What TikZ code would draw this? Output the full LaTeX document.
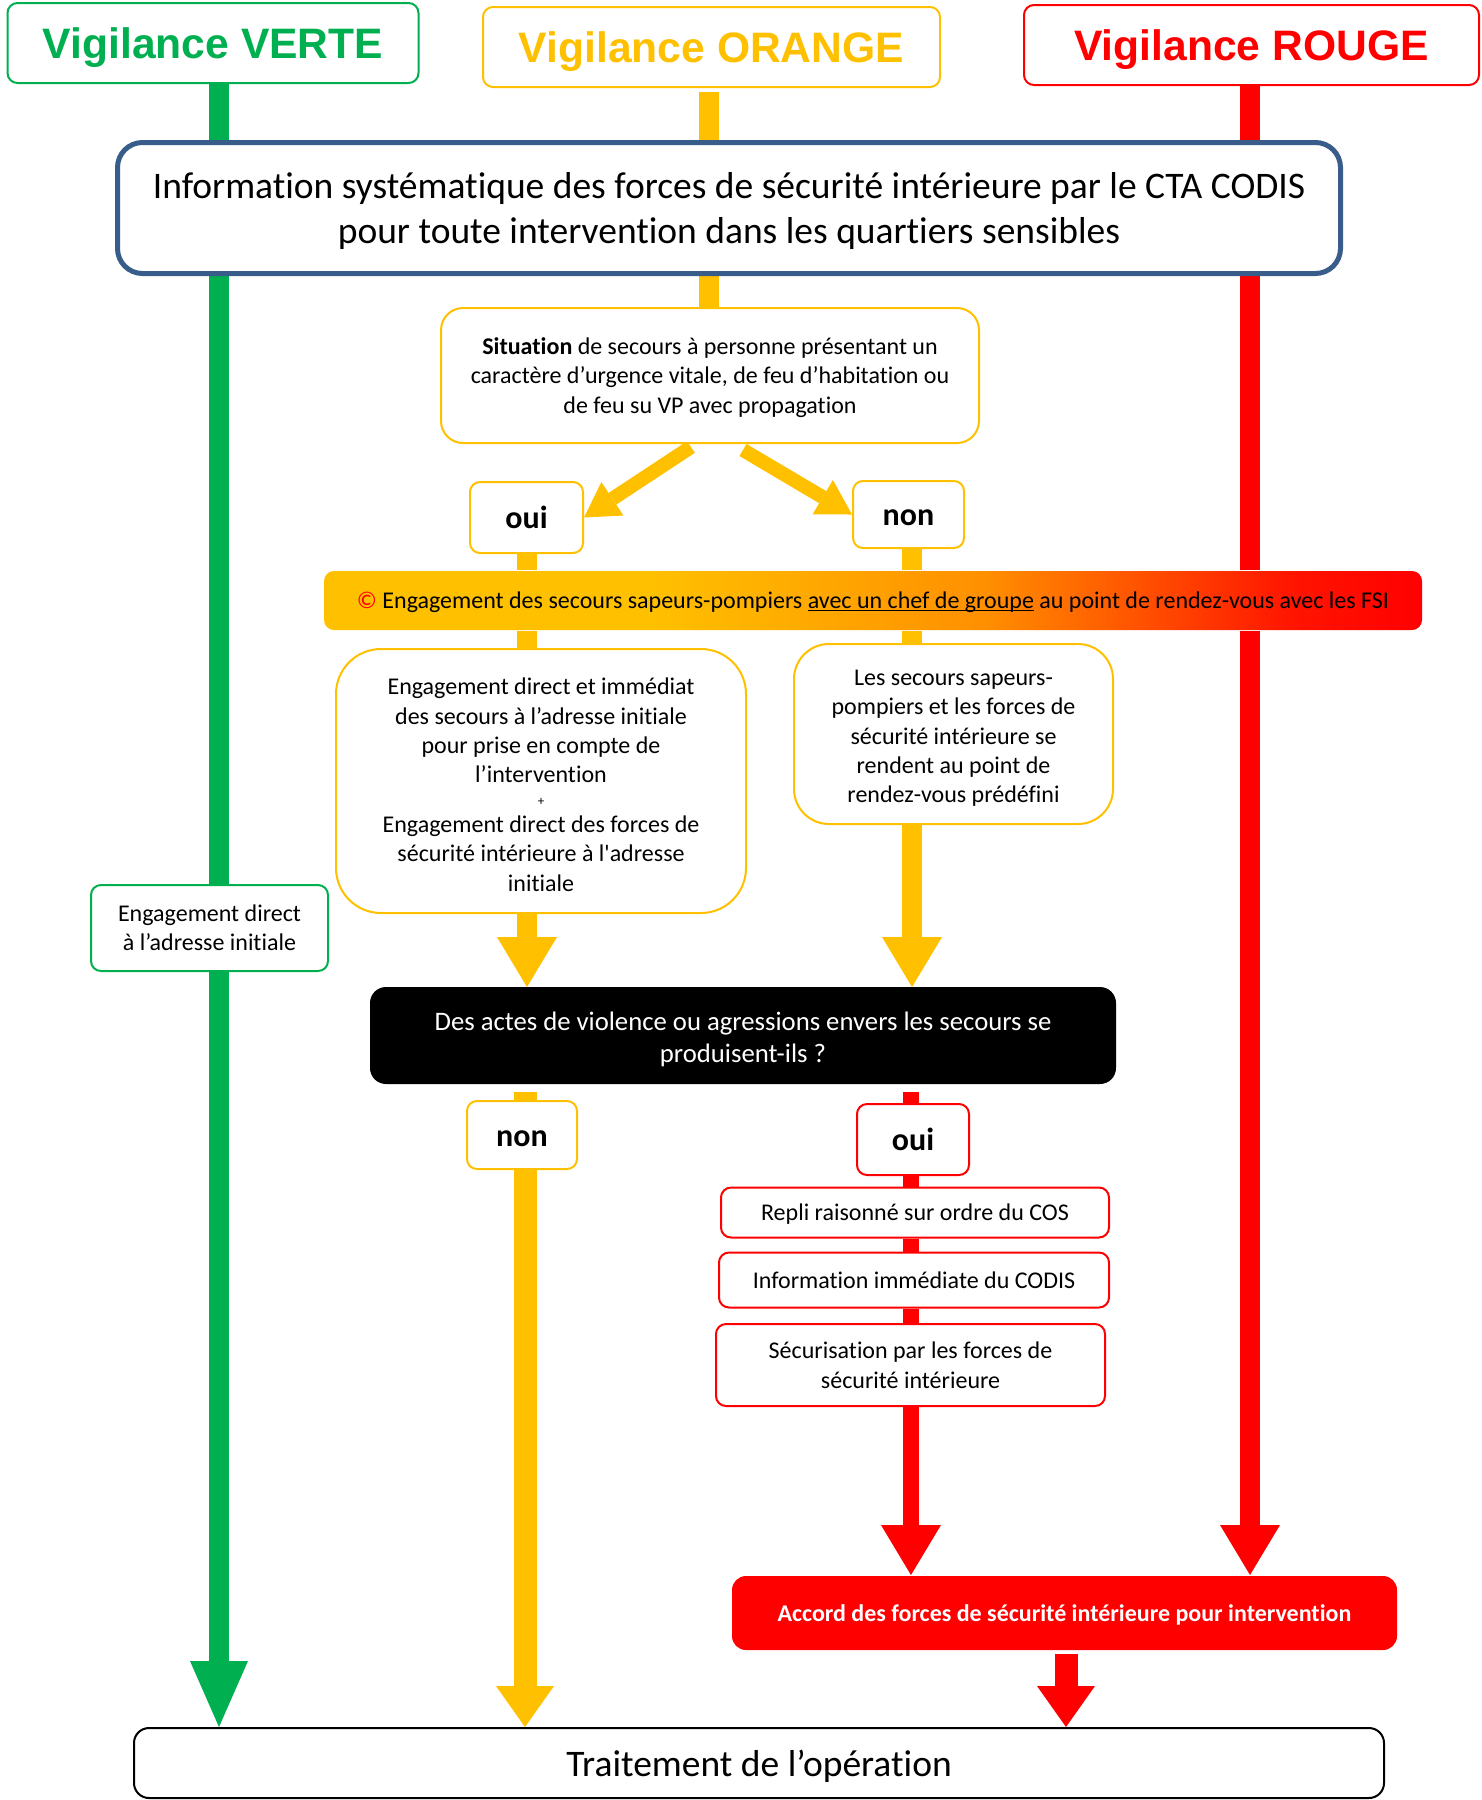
\documentclass[tikz,border=0pt]{standalone}
\usepackage{fontspec}
\setmainfont{Carlito}[Ligatures=NoCommon]
\newfontfamily\plainq{Carlito}[Ligatures=NoCommon]
\newfontfamily\arialf{Liberation Sans}
\usetikzlibrary{arrows.meta,backgrounds}
\definecolor{vgreen}{HTML}{00B050}
\definecolor{vorange}{HTML}{FFC000}
\definecolor{vred}{HTML}{FF0000}
\definecolor{vblue}{HTML}{385D8A}
\definecolor{barmid}{HTML}{FF9000}
\definecolor{barred}{HTML}{FF1500}
\pgfdeclarehorizontalshading{barshade}{100bp}{color(0bp)=(vorange); color(40bp)=(vorange); color(55bp)=(barmid); color(69bp)=(barred); color(75bp)=(vred); color(100bp)=(vred)}
\newcommand\fsz[2]{\fontsize{#1}{#2}\selectfont}
\newcommand\myul[1]{\setbox0\hbox{#1}\rlap{\rule[-2.6pt]{\wd0}{1.6pt}}\box0\relax}
\begin{document}
\begin{tikzpicture}[x=1pt,y=-1pt,
  box/.style={draw, fill=white, line width=2pt, rounded corners=10pt, inner sep=0pt, align=center, text depth=0pt, font=\fsz{24}{29.3}},
  obox/.style={box, draw=vorange},
  rbox/.style={box, draw=vred},
  gbox/.style={box, draw=vgreen},
  titlebox/.style={box, minimum height=80pt, font=\arialf\bfseries\fsz{42.6}{50}},
  yesno/.style={minimum width=#1, text height=22pt, font=\bfseries\fsz{32}{38}},
  gshaft/.style={draw=vgreen, line width=20pt},
  oshaft/.style={draw=vorange, line width=20pt},
  rshaft/.style={draw=vred, line width=20pt},
  tipbig/.style={-{Triangle[length=50pt,width=60pt,line width=0pt]}},
  tipsmall/.style={-{Triangle[length=41pt,width=58pt,line width=0pt]}},
  tipdiag/.style={-{Triangle[length=34pt,width=40pt,line width=0pt]}}
]
\useasboundingbox (0,0) rectangle (1482,1800);

% column coordinates
\coordinate (cG) at (219,0);
\coordinate (cO) at (709,0);
\coordinate (cR) at (1250,0);
\coordinate (cL) at (527,0);
\coordinate (cN) at (912,0);
\coordinate (cLo) at (525,0);
\coordinate (cRo) at (911,0);
\coordinate (cA) at (1066,0);
\coordinate (dL) at (691,447);
\coordinate (dR) at (743,450);

% titles
\node[titlebox, draw=vgreen, text=vgreen, minimum width=411pt] (verte) at (213,43) {Vigilance VERTE};
\node[titlebox, draw=vorange, text=vorange, minimum width=457pt] (orange) at (711.5,47) {Vigilance ORANGE};
\node[titlebox, draw=vred, text=vred, minimum width=455pt] (rouge) at (1251.5,45) {Vigilance ROUGE};

% main info box
\node[box, draw=vblue, line width=5pt, rounded corners=25pt, minimum width=1223pt, minimum height=131pt, font=\fsz{37.5}{45}] (info) at (729,208)
  {Information systématique des forces de sécurité intérieure par le CTA CODIS\\pour toute intervention dans les quartiers sensibles};

\node[obox, rounded corners=22pt, minimum width=538pt, minimum height=135pt] (situation) at (710,375.5)
  {{\bfseries Situation} de secours à personne présentant un\\caractère d’urgence vitale, de feu d’habitation ou\\de feu su VP avec propagation};

\node[obox, yesno=113pt, minimum height=71pt] (oui1) at (526.5,517.5) {oui};
\node[obox, yesno=111pt, minimum height=67pt] (non1) at (908.5,514.5) {non};

\node[box, draw=none, shading=barshade, minimum width=1098pt, minimum height=59pt] (bar) at (873,600.5)
  {\textcolor{vred}{©} Engagement des secours sapeurs-pompiers \myul{avec un chef de groupe} au point de rendez-vous avec les FSI};

\node[obox, rounded corners=45pt, minimum width=410pt, minimum height=264pt] (leftbox) at (541,781)
  {\rule{0pt}{24pt}Engagement direct et immédiat\\des secours à l’adresse initiale\\pour prise en compte de\\l’intervention\\[-7pt]{\fsz{13}{14}+}\\[-2pt]Engagement direct des forces de\\sécurité intérieure à l{\plainq '}adresse\\initiale};

\node[obox, rounded corners=35pt, minimum width=319pt, minimum height=180pt] (rightbox) at (953.5,734)
  {\rule{0pt}{20pt}Les secours sapeurs-\\pompiers et les forces de\\sécurité intérieure se\\rendent au point de\\rendez-vous prédéfini};

\node[gbox, minimum width=237pt, minimum height=86pt] (greenbox) at (209.5,928)
  {Engagement direct\\à l’adresse initiale};

\node[box, draw=black, fill=black, text=white, rounded corners=15pt, minimum width=744pt, minimum height=95pt, font=\fsz{26.7}{32.5}] (black) at (743,1035.5)
  {\rule{0pt}{22pt}Des actes de violence ou agressions envers les secours se\\produisent-ils ?};

\node[obox, yesno=110pt, minimum height=68pt] (non2) at (522,1135) {non};
\node[rbox, yesno=112pt, minimum height=71pt] (oui2) at (913,1139.5) {oui};

\node[rbox, minimum width=388pt, minimum height=50pt] (repli) at (915,1212.5) {Repli raisonné sur ordre du COS};
\node[rbox, minimum width=390pt, minimum height=55pt] (infoc) at (914,1280) {Information immédiate du CODIS};
\node[rbox, minimum width=389pt, minimum height=82pt] (secu) at (910.5,1365) {Sécurisation par les forces de\\sécurité intérieure};

\node[box, draw=none, fill=vred, text=white, rounded corners=14pt, minimum width=665pt, minimum height=74pt, font=\bfseries\fsz{24}{28}] (accord) at (1064.5,1613)
  {Accord des forces de sécurité intérieure pour intervention};

\node[box, draw=black, rounded corners=15pt, minimum width=1250pt, minimum height=70pt, font=\fsz{37.5}{45}] (trait) at (759,1763)
  {Traitement de l’opération};

\begin{scope}[on background layer]
% green column
\draw[gshaft] (verte.south -| cG) -- (info.north -| cG);
\draw[gshaft] (info.south -| cG) -- (greenbox.north -| cG);
\draw[gshaft, -{Triangle[length=66pt,width=58pt,line width=0pt]}] (greenbox.south -| cG) -- (trait.north -| cG);
% orange column
\draw[oshaft, shorten <=4pt] (orange.south -| cO) -- (info.north -| cO);
\draw[oshaft] (info.south -| cO) -- (situation.north -| cO);
\draw[oshaft, line width=14pt, tipdiag] (dL) -- (oui1.east);
\draw[oshaft, line width=14pt, tipdiag] (dR) -- (non1.west);
\draw[oshaft] (oui1.south -| cL) -- (bar.north -| cL);
\draw[oshaft] (bar.south -| cL) -- (leftbox.north -| cL);
\draw[oshaft, tipbig] (leftbox.south -| cL) -- (black.north -| cL);
\draw[oshaft] (non1.south -| cN) -- (bar.north -| cN);
\draw[oshaft] (bar.south -| cN) -- (rightbox.north -| cN);
\draw[oshaft, tipbig] (rightbox.south -| cN) -- (black.north -| cN);
\draw[oshaft, line width=23pt, shorten <=8pt] (black.south -| cLo) -- (non2.north -| cLo);
\draw[oshaft, line width=23pt, tipsmall] (non2.south -| cLo) -- (trait.north -| cLo);
% red column
\draw[rshaft] (rouge.south -| cR) -- (info.north -| cR);
\draw[rshaft] (info.south -| cR) -- (bar.north -| cR);
\draw[rshaft, tipbig] (bar.south -| cR) -- (accord.north -| cR);
\draw[rshaft, line width=16pt, shorten <=8pt] (black.south -| cRo) -- (oui2.north -| cRo);
\draw[rshaft, line width=16pt] (oui2.south -| cRo) -- (repli.north -| cRo);
\draw[rshaft, line width=16pt] (repli.south -| cRo) -- (infoc.north -| cRo);
\draw[rshaft, line width=16pt] (infoc.south -| cRo) -- (secu.north -| cRo);
\draw[rshaft, line width=16pt, tipbig] (secu.south -| cRo) -- (accord.north -| cRo);
\draw[rshaft, line width=23pt, shorten <=3pt, tipsmall] (accord.south -| cA) -- (trait.north -| cA);
\end{scope}
\end{tikzpicture}
\end{document}
